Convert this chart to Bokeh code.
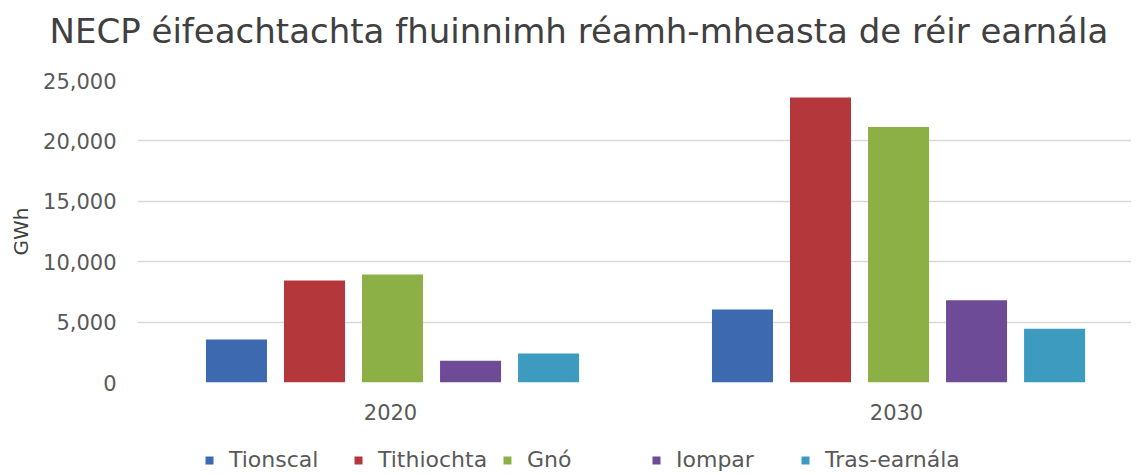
from bokeh.plotting import figure
from bokeh.layouts import column
from bokeh.models import (Range1d, SingleIntervalTicker, NumeralTickFormatter, FixedTicker,
                          Legend, LegendItem, ColumnDataSource, Title)
from bokeh.transform import dodge
from bokeh.embed import file_html
from bokeh.resources import INLINE

# ---- data ----
years = ["2020", "2030"]
sectors = ["Tionscal", "Tithiochta", "Gnó", "Iompar", "Tras-earnála"]
tionscal = [3550, 6050]
tithiochta = [8450, 23600]
gno = [8950, 21150]
iompar = [1800, 6800]
tras_earnala = [2400, 4450]
colors = ["#3C69AF", "#B4373C", "#8CB046", "#6E4B96", "#3C9BBE"]
title_text = "NECP éifeachtachta fhuinnimh réamh-mheasta de réir earnála"
y_label = "GWh"

series = [tionscal, tithiochta, gno, iompar, tras_earnala]
keys = ["s0", "s1", "s2", "s3", "s4"]
xc = [i + 0.5 for i in range(len(years))]
data = dict(x=xc)
for k, s in zip(keys, series):
    data[k] = s
src = ColumnDataSource(data)

# title strip
tf = figure(width=1131, height=62, output_backend="svg", toolbar_location=None,
            x_range=Range1d(0, 1), y_range=Range1d(0, 1),
            x_axis_location=None, y_axis_location=None,
            min_border_left=0, min_border_right=0, min_border_top=0, min_border_bottom=0)
tf.outline_line_color = None
tf.grid.visible = False
tf.title = Title(text=title_text, align="left", offset=-88, text_font="DejaVu Sans",
                 text_font_size="34px", text_font_style="normal", text_color="#404040",
                 standoff=16)

p = figure(x_range=Range1d(0, 1.9644), y_range=Range1d(0, 25000),
           width=1131, height=365, output_backend="svg", toolbar_location=None,
           min_border_left=137, min_border_right=0, min_border_top=18, min_border_bottom=45)

bw = 0.1206
step = 0.1542
for i, k in enumerate(keys):
    p.vbar(x=dodge("x", (i - 2) * step + 0.004), top=k, width=bw,
           source=src, fill_color=colors[i], line_color=None)

p.outline_line_color = None
p.xgrid.visible = False
p.ygrid.grid_line_color = "#d9d9d9"
p.ygrid.grid_line_width = 1.5

p.yaxis.ticker = SingleIntervalTicker(interval=5000)
p.yaxis.formatter = NumeralTickFormatter(format="0,0")
p.yaxis.axis_line_color = None
p.yaxis.major_tick_line_color = None
p.yaxis.minor_tick_line_color = None
p.yaxis.major_label_standoff = 15
p.yaxis.major_label_text_font = "DejaVu Sans"
p.yaxis.major_label_text_font_size = "21px"
p.yaxis.major_label_text_color = "#595959"
p.yaxis.axis_label = y_label
p.yaxis.axis_label_standoff = 7
p.yaxis.axis_label_text_font = "DejaVu Sans"
p.yaxis.axis_label_text_font_size = "20px"
p.yaxis.axis_label_text_font_style = "normal"
p.yaxis.axis_label_text_color = "#404040"

p.xaxis.ticker = FixedTicker(ticks=xc)
p.xaxis.major_label_overrides = {x: y for x, y in zip(xc, years)}
p.xaxis.axis_line_color = None
p.xaxis.major_tick_line_color = None
p.xaxis.minor_tick_line_color = None
p.xaxis.major_label_standoff = 15
p.xaxis.major_label_text_font = "DejaVu Sans"
p.xaxis.major_label_text_font_size = "21px"
p.xaxis.major_label_text_color = "#595959"

# legend strip below the chart (swatches only; the bars above come from the data)
lg = figure(width=1131, height=45, output_backend="svg", toolbar_location=None,
            x_range=Range1d(0, 1), y_range=Range1d(0, 1),
            x_axis_location=None, y_axis_location=None,
            min_border_left=0, min_border_right=0, min_border_top=0, min_border_bottom=0)
lg.outline_line_color = None
lg.grid.visible = False
swatch = ColumnDataSource(dict(x=[5], top=[0]))
items = []
for s, c in zip(sectors, colors):
    r = lg.vbar(x="x", top="top", width=0.1, source=swatch, fill_color=c, line_color=None)
    items.append(LegendItem(label=s, renderers=[r]))
legend = Legend(items=items, orientation="horizontal", location=(67, 0),
                glyph_width=10, glyph_height=10, label_standoff=15, label_width=115,
                spacing=9, padding=0, margin=0, border_line_alpha=0, background_fill_alpha=0,
                label_text_font="DejaVu Sans", label_text_font_size="22px",
                label_text_color="#595959")
lg.add_layout(legend)

layout = column(tf, p, lg, spacing=0)
open("out.html", "w").write(file_html(layout, INLINE))
